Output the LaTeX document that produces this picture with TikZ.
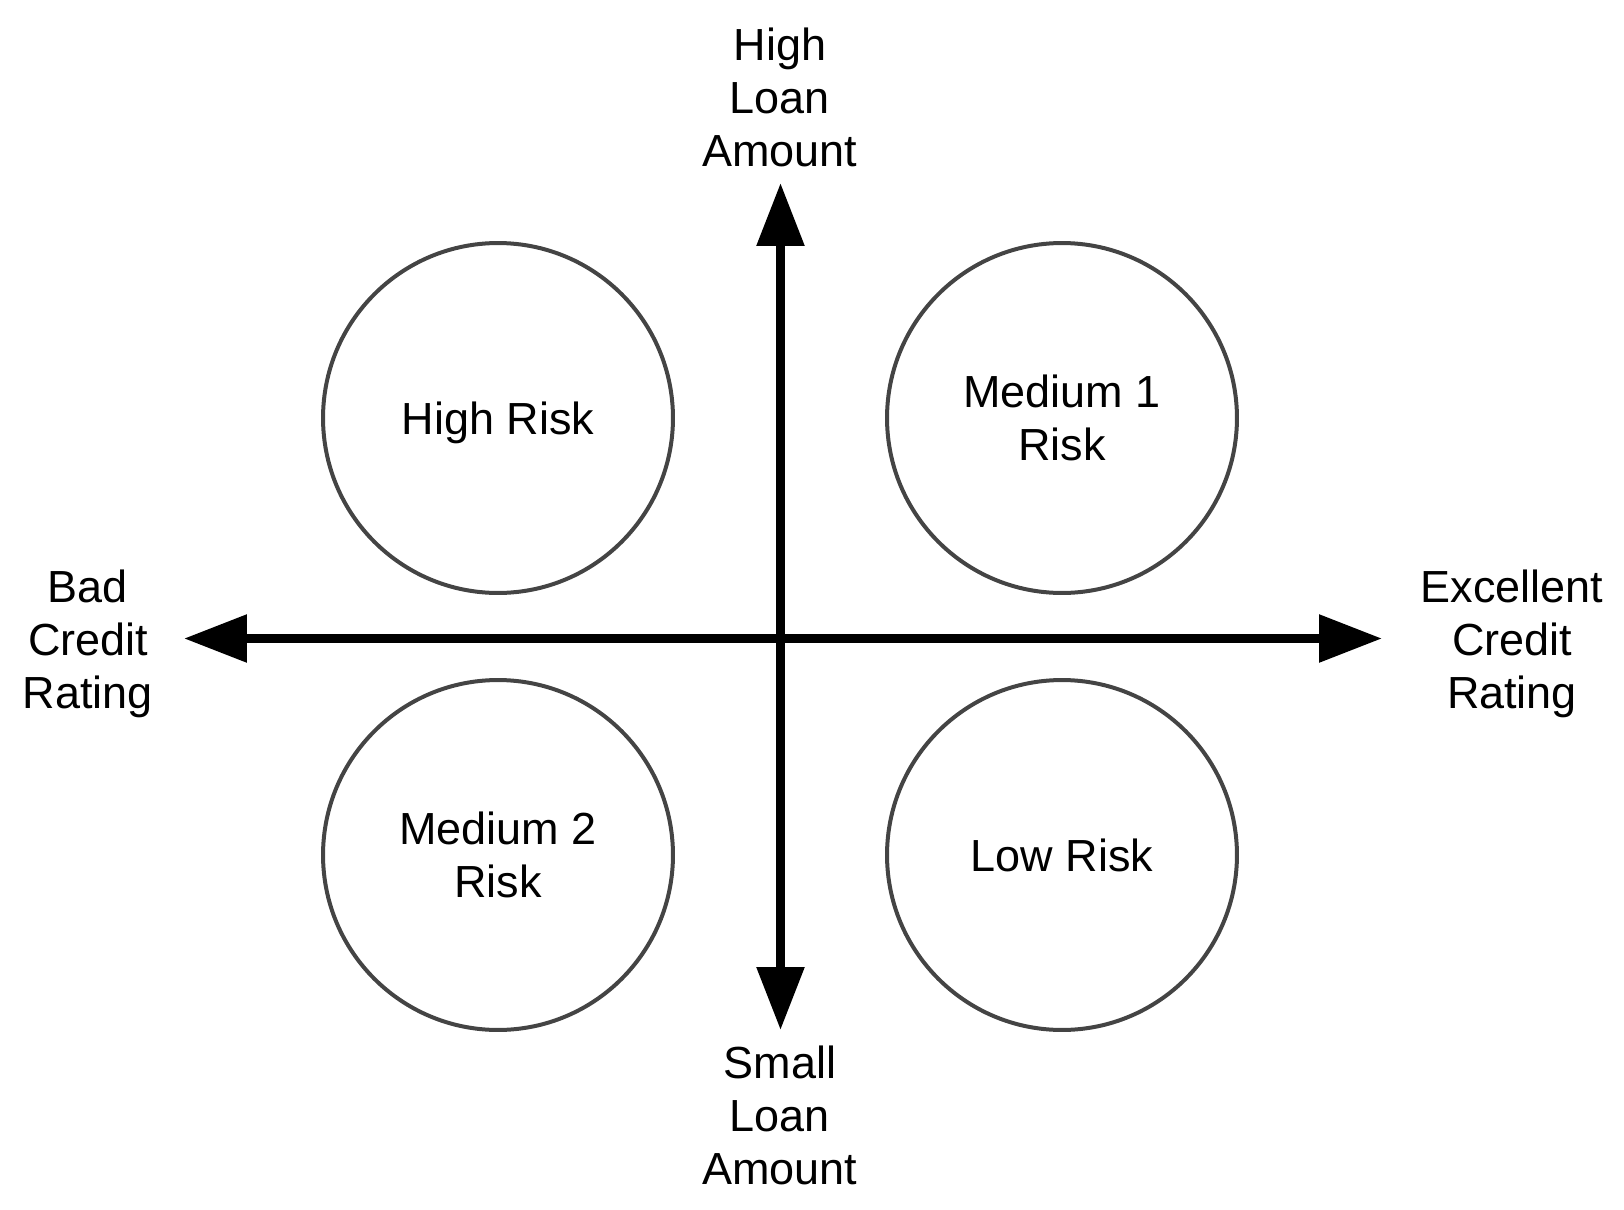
\documentclass[tikz,border=0pt]{standalone}
\usepackage{fontspec}
\setmainfont{Liberation Sans}
\usepackage{xcolor}
\usepackage{tikz}
\usetikzlibrary{arrows.meta,shapes}

\definecolor{ringgray}{HTML}{444444}

\begin{document}
\begin{tikzpicture}[x=0.02cm,y=-0.02cm]
		\tikzstyle{axis}=[line width=0.18cm, draw=black, {Triangle[length=1.26cm,width=0.92cm]}-{Triangle[length=1.26cm,width=0.92cm]}]
		\tikzstyle{risk}=[circle, draw=ringgray, line width=0.08cm, minimum size=7cm, inner sep=0pt, align=center, text depth=0pt, font=\fontsize{25.6}{30.2}\selectfont]
		\tikzstyle{axis_text}=[align=center, inner sep=0pt, font=\fontsize{25.6}{30.2}\selectfont]

		\useasboundingbox (0,0) rectangle (1624,1210);

		% quadrants
		\node [risk] (hirisk) at (498,418) {High Risk};
		\node [risk] (medone) at (1062,418) {Medium 1\\Risk};
		\node [risk] (medtwo) at (498,855) {Medium 2\\Risk};
		\node [risk] (lorisk) at (1062,855) {Low Risk};

		% axes
		\coordinate (ctop) at (780.5,183);
		\coordinate (cbot) at (780.5,1030);
		\coordinate (cleft) at (184,638.5);
		\coordinate (cright) at (1382,638.5);
		\draw [axis] (cbot) -- (ctop);
		\draw [axis] (cleft) -- (cright);

		% axis labels
		\node [axis_text] (hiloan) at (780,97) {High\\Loan\\Amount};
		\node [axis_text] (smloan) at (780,1115) {Small\\Loan\\Amount};
		\node [axis_text] (badcr) at (88,644) {Bad\\Credit\\Rating};
		\node [axis_text] (exccr) at (1512,644) {Excellent\\Credit\\Rating};
	\end{tikzpicture}
\end{document}
